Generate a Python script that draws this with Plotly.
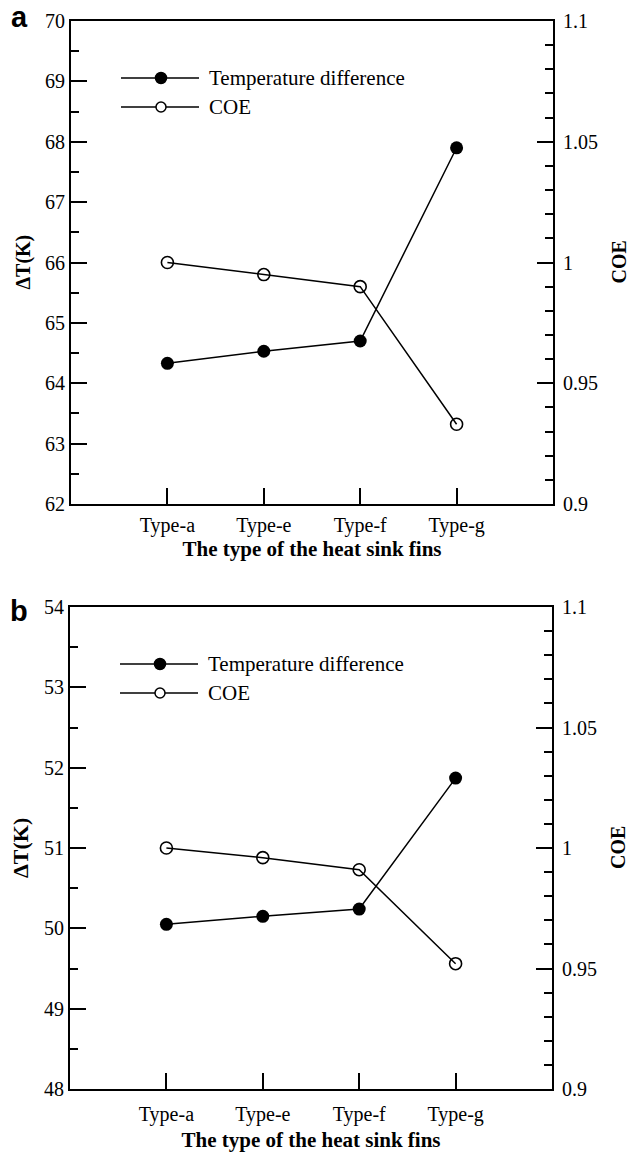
import plotly.graph_objects as go

# Fin types on the horizontal axis
fin_types = ["Type-a", "Type-e", "Type-f", "Type-g"]
fin_pos = [1, 2, 3, 4]

# Panel (a)
dT_a = [64.33, 64.53, 64.70, 67.90]
coe_a = [1.000, 0.995, 0.990, 0.933]

# Panel (b)
dT_b = [50.05, 50.15, 50.24, 51.87]
coe_b = [1.000, 0.996, 0.991, 0.952]

dT_ticks_a = [62, 63, 64, 65, 66, 67, 68, 69, 70]
dT_ticks_b = [48, 49, 50, 51, 52, 53, 54]
coe_ticks = [0.9, 0.95, 1.0, 1.05, 1.1]
coe_tick_text = ["0.9", "0.95", "1", "1.05", "1.1"]

W, H = 628, 1152
SERIF = "Liberation Serif"
SANS = "Liberation Sans"

fig = go.Figure()

# pixel boxes of the two panels: (left, right, top, bottom)
panels = [
    dict(box=(71, 553, 21, 504), dT=dT_a, coe=coe_a, rng=(62, 70), ticks=dT_ticks_a,
         tag="a", tag_dy=-4, lab_gap=2, title_gap=4, dtsize=20),
    dict(box=(70, 552, 607, 1089), dT=dT_b, coe=coe_b, rng=(48, 54), ticks=dT_ticks_b,
         tag="b", tag_dy=4, lab_gap=6, title_gap=8, dtsize=22),
]

shapes = []
annotations = []

for i, p in enumerate(panels):
    l, r, t, b = p["box"]
    xd = [l / W, r / W]
    yd = [1 - b / H, 1 - t / H]
    n = 2 * i + 1
    xa = "x" if i == 0 else "x2"
    ya_l = f"y{n}" if n > 1 else "y"
    ya_r = f"y{n + 1}"
    xkey = "xaxis" if i == 0 else "xaxis2"
    ylkey = "yaxis" if n == 1 else f"yaxis{n}"
    yrkey = f"yaxis{n + 1}"

    fig.add_trace(go.Scatter(
        x=fin_pos, y=p["dT"], xaxis=xa, yaxis=ya_l, mode="lines+markers",
        line=dict(color="black", width=1.5),
        marker=dict(symbol="circle", size=13, color="black"),
        showlegend=False, name="Temperature difference"))
    fig.add_trace(go.Scatter(
        x=fin_pos, y=p["coe"], xaxis=xa, yaxis=ya_r, mode="lines+markers",
        line=dict(color="black", width=1.5),
        marker=dict(symbol="circle-open", size=12, color="black", line=dict(width=1.6)),
        showlegend=False, name="COE"))

    fig.layout[xkey] = dict(
        domain=xd, anchor=ya_l, range=[0, 5], automargin=False,
        tickvals=fin_pos, ticktext=fin_types,
        ticks="inside", ticklen=16, tickwidth=1.5, tickcolor="black",
        ticklabelstandoff=p["lab_gap"],
        showline=True, linecolor="black", linewidth=2, mirror=True,
        showgrid=False, zeroline=False,
        tickfont=dict(family=SERIF, size=20, color="black"),
        title=dict(text="<b>The type of the heat sink fins</b>",
                   font=dict(family=SERIF, size=21, color="black"), standoff=p["title_gap"]),
        fixedrange=True,
    )
    fig.layout[ylkey] = dict(
        domain=yd, anchor=xa, range=list(p["rng"]), automargin=False,
        tickvals=p["ticks"], ticks="inside", ticklen=16, tickwidth=1.5, tickcolor="black",
        minor=dict(dtick=0.5, ticks="inside", ticklen=8, tickwidth=1.5, tickcolor="black", showgrid=False),
        showline=True, linecolor="black", linewidth=2,
        showgrid=False, zeroline=False,
        tickfont=dict(family=SERIF, size=20, color="black"),
        fixedrange=True,
    )
    fig.layout[yrkey] = dict(
        domain=yd, anchor=xa, overlaying=ya_l, side="right", range=[0.9, 1.1], automargin=False,
        tickvals=coe_ticks, ticktext=coe_tick_text,
        ticks="inside", ticklen=16, tickwidth=1.5, tickcolor="black",
        ticklabelstandoff=4,
        minor=dict(dtick=0.01, ticks="inside", ticklen=8, tickwidth=1.5, tickcolor="black", showgrid=False),
        showline=True, linecolor="black", linewidth=2,
        showgrid=False, zeroline=False,
        tickfont=dict(family=SERIF, size=20, color="black"),
        fixedrange=True,
    )

    # y-axis titles
    annotations.append(dict(
        text="<b>ΔT(K)</b>", xref="paper", yref="paper",
        x=(23 if i == 0 else 20) / W, y=1 - ((t + b) / 2) / H,
        textangle=-90, showarrow=False, xanchor="center", yanchor="middle",
        font=dict(family=SERIF, size=p["dtsize"], color="black")))
    annotations.append(dict(
        text="<b>COE</b>", xref="paper", yref="paper",
        x=618 / W, y=1 - ((t + b) / 2) / H,
        textangle=-90, showarrow=False, xanchor="center", yanchor="middle",
        font=dict(family=SERIF, size=20, color="black")))
    # panel letter
    annotations.append(dict(
        text=f"<b>{p['tag']}</b>", xref="paper", yref="paper",
        x=19 / W, y=1 - (t + p["tag_dy"]) / H, showarrow=False,
        xanchor="center", yanchor="middle",
        font=dict(family=SANS, size=29, color="black")))

    # legend block
    lx0, lx1 = l + 50, l + 128
    mx = l + 90
    for row, (label, filled) in enumerate([("Temperature difference", True), ("COE", False)]):
        yy = t + 57 + 29 * row
        ypap = 1 - yy / H
        shapes.append(dict(type="line", xref="paper", yref="paper",
                           x0=lx0 / W, x1=lx1 / W, y0=ypap, y1=ypap,
                           line=dict(color="black", width=1.5)))
        d = 11 if filled else 10
        shapes.append(dict(type="circle", xref="paper", yref="paper",
                           xsizemode="pixel", ysizemode="pixel",
                           xanchor=mx / W, yanchor=ypap,
                           x0=-d / 2, x1=d / 2, y0=-d / 2, y1=d / 2,
                           fillcolor="black" if filled else "white",
                           line=dict(color="black", width=1.5)))
        annotations.append(dict(
            text=label, xref="paper", yref="paper",
            x=(lx1 + 8) / W, y=ypap, showarrow=False,
            xanchor="left", yanchor="middle",
            font=dict(family=SERIF, size=21, color="black")))

fig.update_layout(
    template="none",
    width=W, height=H,
    margin=dict(l=0, r=0, t=0, b=0, autoexpand=False),
    paper_bgcolor="white", plot_bgcolor="white",
    showlegend=False,
    shapes=shapes, annotations=annotations,
)

fig.write_html("out.html")
